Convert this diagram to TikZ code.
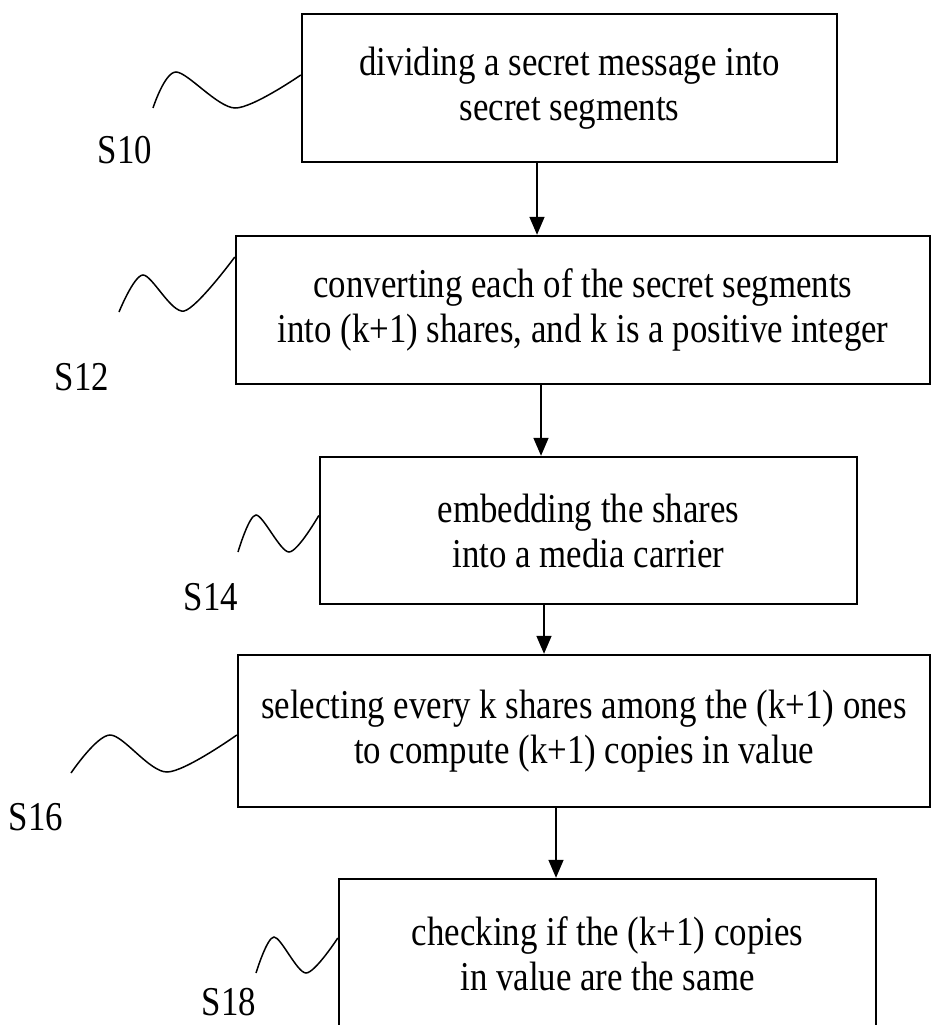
\documentclass[tikz,border=0pt]{standalone}
\usepackage{fontspec}
\setmainfont{Liberation Serif}[FakeStretch=0.85]
\usetikzlibrary{arrows.meta}

\begin{document}
\begin{tikzpicture}[x=1pt, y=-1pt,
    stepbox/.style={draw, line width=2.4pt, align=center, inner sep=0pt, font=\fontsize{41}{45}\selectfont},
    steplabel/.style={font=\fontsize{41}{45}\selectfont},
    squig/.style={line width=1.5pt},
    flow/.style={line width=1.5pt, -{Triangle[length=18pt, width=15pt]}}]
    \useasboundingbox (0,0) rectangle (933,1025);

    % process steps
    \node[stepbox, minimum width=535, minimum height=148] (divide) at (569.5,88) {dividing a secret message into\\secret segments};
    \node[stepbox, minimum width=694, minimum height=148] (convert) at (583,310) {converting each of the secret segments\\into (k+1) shares, and k is a positive integer};
    \node[stepbox, minimum width=537, minimum height=147] (embed) at (588.5,530.5) {embedding the shares\\into a media carrier};
    \node[stepbox, minimum width=692, minimum height=152] (select) at (584,731) {selecting every k shares among the (k+1) ones\\to compute (k+1) copies in value};
    \node[stepbox, minimum width=537, minimum height=150] (check) at (607.5,954) {checking if the (k+1) copies\\in value are the same};

    % step labels
    \node[steplabel] (l10) at (125,150) {S10};
    \node[steplabel] (l12) at (82,377) {S12};
    \node[steplabel] (l14) at (211,597) {S14};
    \node[steplabel] (l16) at (36,817) {S16};
    \node[steplabel] (l18) at (229,1002) {S18};

    % arrow columns
    \coordinate (c1) at (537,0);
    \coordinate (c2) at (541,0);
    \coordinate (c3) at (544,0);
    \coordinate (c4) at (556,0);

    \draw[flow] (divide.south -| c1) -- (convert.north -| c1);
    \draw[flow] (convert.south -| c2) -- (embed.north -| c2);
    \draw[flow] (embed.south -| c3) -- (select.north -| c3);
    \draw[flow] (select.south -| c4) -- (check.north -| c4);

    % leader squiggles
    \draw[squig] plot[smooth] coordinates {(153,108) (176,72) (235,108) ([yshift=13pt]divide.west)};
    \draw[squig] plot[smooth] coordinates {(119,312) (143,275) (184,311) ([yshift=53pt]convert.west)};
    \draw[squig] plot[smooth] coordinates {(238,552) (256,515) (289,552) ([yshift=15pt]embed.west)};
    \draw[squig] plot[smooth] coordinates {(71,773) (110,735) (167,772) ([yshift=-4pt]select.west)};
    \draw[squig] plot[smooth] coordinates {(256,973) (274,937) (306,973) ([yshift=16pt]check.west)};
\end{tikzpicture}
\end{document}
